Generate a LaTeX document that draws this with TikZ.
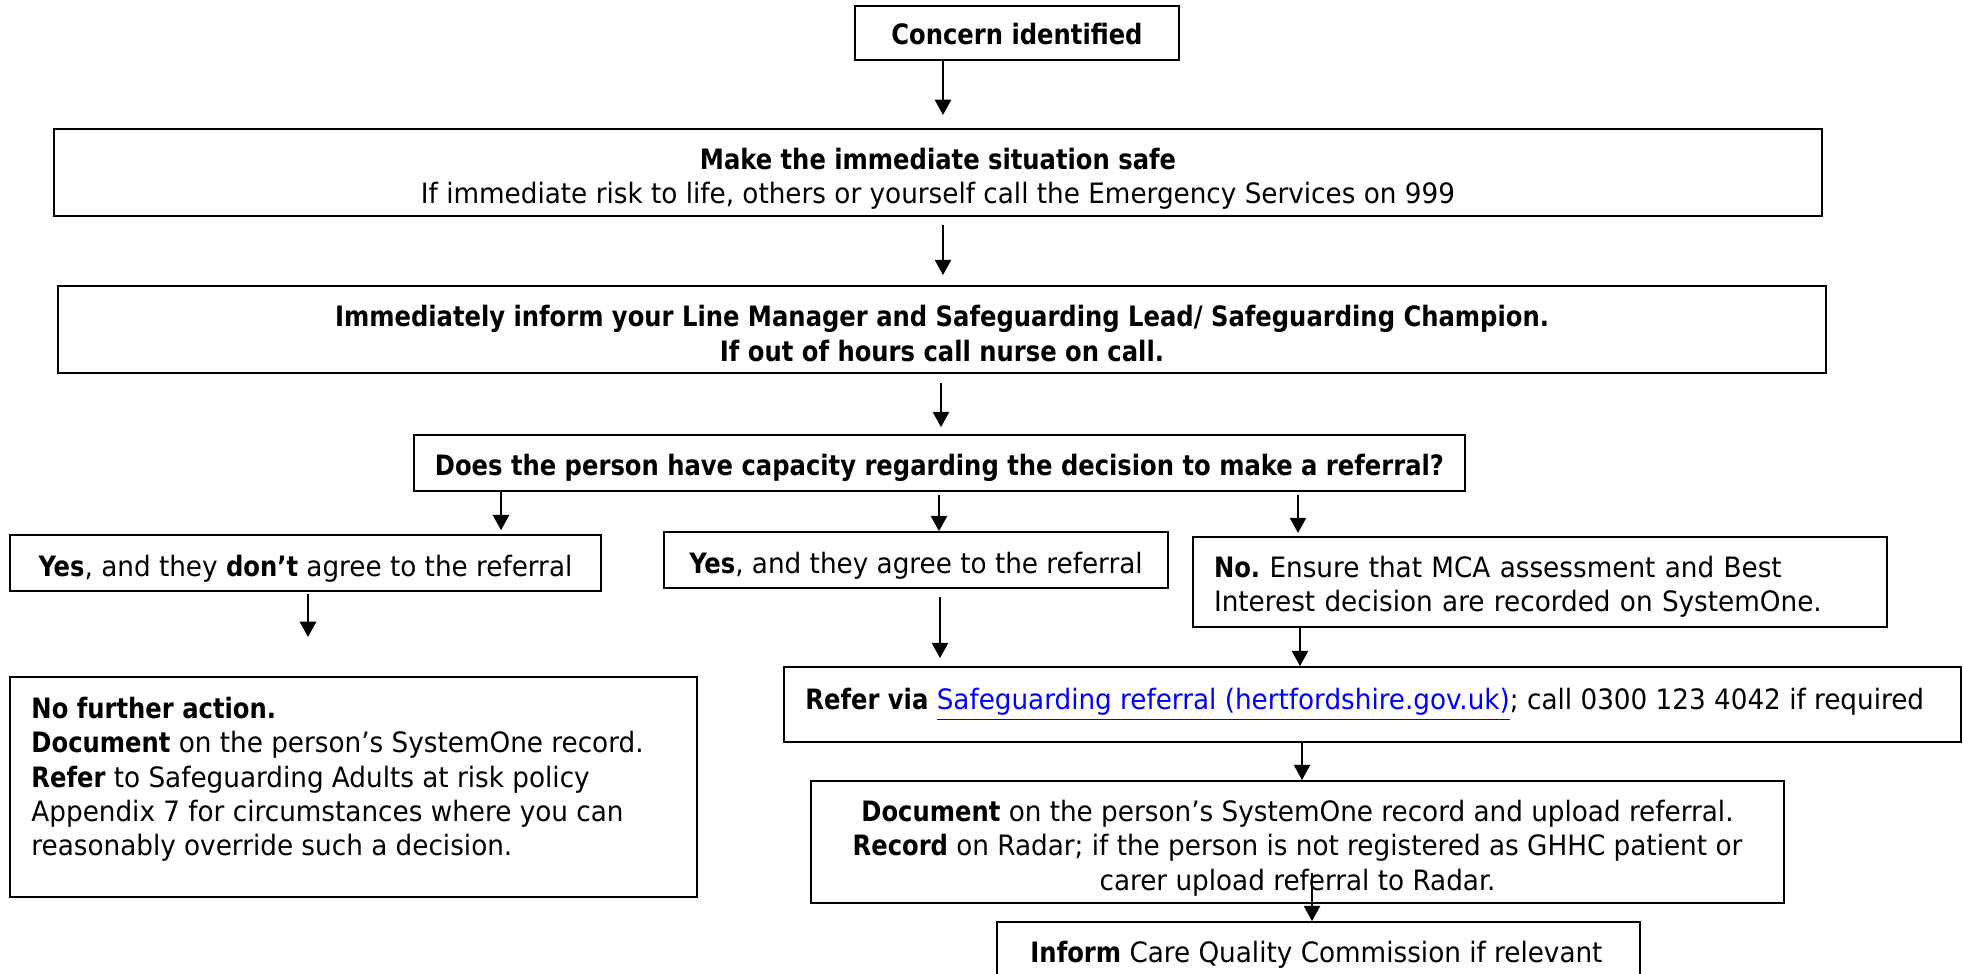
\documentclass[tikz,border=0pt]{standalone}
\usepackage{fontspec}
\setmainfont{DejaVu Sans Condensed}[UprightFeatures={FakeStretch=1.04}, BoldFeatures={FakeStretch=0.96}]
\usetikzlibrary{arrows.meta}
\definecolor{linkblue}{RGB}{0,0,255}
\frenchspacing
\begin{document}
\frenchspacing
\begin{tikzpicture}[x=0.4275pt, y=-0.4275pt,
  font=\fontsize{12}{14.7}\selectfont,
  box/.style={draw, line width=0.8pt, inner sep=0pt, anchor=center},
  txt/.style={inner sep=0pt},
  arr/.style={-{Triangle[width=7pt,length=6.5pt]}, line width=0.6pt}]
\useasboundingbox (0,0) rectangle (1963,974);

% boxes
\node[box, minimum width=138.5pt, minimum height=23.1pt] (concern) at (1017,33) {};
\node[box, minimum width=755.8pt, minimum height=37.2pt] (safe) at (938,172.5) {};
\node[box, minimum width=755.8pt, minimum height=37.2pt] (lm) at (942,329.5) {};
\node[box, minimum width=449.3pt, minimum height=23.9pt] (does) at (939.5,463) {};
\node[box, minimum width=252.7pt, minimum height=23.9pt] (dont) at (305.5,563) {};
\node[box, minimum width=215.5pt, minimum height=23.9pt] (agree) at (916,560) {};
\node[box, minimum width=296.7pt, minimum height=38.5pt] (no) at (1540,582) {};
\node[box, minimum width=293.7pt, minimum height=94.1pt] (nfa) at (353.5,787) {};
\node[box, minimum width=503.2pt, minimum height=32.1pt] (refer) at (1372.5,704.5) {};
\node[box, minimum width=416pt, minimum height=52.2pt] (doc) at (1297.5,842) {};
\node[box, minimum width=274.9pt, minimum height=29.1pt] (inform) at (1318.5,956) {};

% texts
\node[txt] (concernT) at ([yshift=-0.4pt]concern.center) {\textbf{Concern identified}};
\node[txt, align=center] (safeT) at ([yshift=-2.6pt]safe.center)
  {\textbf{Make the immediate situation safe}\\If immediate risk to life, others or yourself call the Emergency Services on 999};
\node[txt, align=center] (lmT) at ([yshift=-1.7pt]lm.center)
  {\textbf{Immediately inform your Line Manager and Safeguarding Lead/ Safeguarding Champion.}\\\textbf{If out of hours call nurse on call.}};
\node[txt] (doesT) at ([yshift=-2.1pt]does.center)
  {\textbf{Does the person have capacity regarding the decision to make a referral?}};
\node[txt] (dontT) at ([yshift=-2.6pt]dont.center)
  {\textbf{Yes}, and they \textbf{don’t} agree to the referral};
\node[txt] (agreeT) at ([yshift=-2.6pt]agree.center)
  {\textbf{Yes}, and they agree to the referral};
\node[txt, text width=278.7pt, align=left] (noT) at ([yshift=-2.1pt]no.center)
  {\textbf{No.} Ensure that MCA assessment and Best\\Interest decision are recorded on SystemOne.};
\node[txt, align=center] (docT) at ([yshift=-2.6pt]doc.center)
  {\textbf{Document} on the person’s SystemOne record and upload referral.\\
   \textbf{Record} on Radar; if the person is not registered as GHHC patient or\\
   carer upload referral to Radar.};
\node[txt, anchor=north west, align=left] (nfaT) at (31,696.5)
  {\textbf{No further action.}\\
   \textbf{Document} on the person’s SystemOne record.\\
   \textbf{Refer} to Safeguarding Adults at risk policy\\
   Appendix 7 for circumstances where you can\\
   reasonably override such a decision.};
\node[txt, anchor=base west] (referT) at (805,710)
  {\textbf{Refer via} \textcolor{linkblue}{\underline{Safeguarding referral (hertfordshire.gov.uk)}}; call 0300 123 4042 if required};
\node[txt, anchor=base west] (informT) at (1030,963)
  {\textbf{Inform} Care Quality Commission if relevant};

% arrow columns
\coordinate (v943) at (943,0);
\coordinate (v941) at (941,0);
\coordinate (v501) at (501,0);
\coordinate (v939) at (939,0);
\coordinate (v1298) at (1298,0);
\coordinate (v308) at (308,0);
\coordinate (v940) at (940,0);
\coordinate (v1300) at (1300,0);
\coordinate (v1302) at (1302,0);
\coordinate (v1312) at (1312,0);

% connectors
\draw[arr, shorten >=5.6pt] (concern.south -| v943) -- (safe.north -| v943);
\draw[arr, shorten <=3.4pt, shorten >=4.3pt] (safe.south -| v943) -- (lm.north -| v943);
\draw[arr, shorten <=3.8pt, shorten >=3pt] (lm.south -| v941) -- (does.north -| v941);
\draw[arr, shorten >=1.7pt] (does.south -| v501) -- (dont.north -| v501);
\draw[arr, shorten <=1.3pt] (does.south -| v939) -- (agree.north -| v939);
\draw[arr, shorten <=1.3pt, shorten >=1.3pt] (does.south -| v1298) -- (no.north -| v1298);
\draw[arr, shorten <=0.9pt, shorten >=16.7pt] (dont.south -| v308) -- (nfa.north -| v308);
\draw[arr, shorten <=3.4pt, shorten >=3.4pt] (agree.south -| v940) -- (refer.north -| v940);
\draw[arr] (no.south -| v1300) -- (refer.north -| v1300);
\draw[arr] (refer.south -| v1302) -- (doc.north -| v1302);
\draw[arr, shorten <=-13.3pt] (doc.south -| v1312) -- (inform.north -| v1312);
\end{tikzpicture}
\end{document}
